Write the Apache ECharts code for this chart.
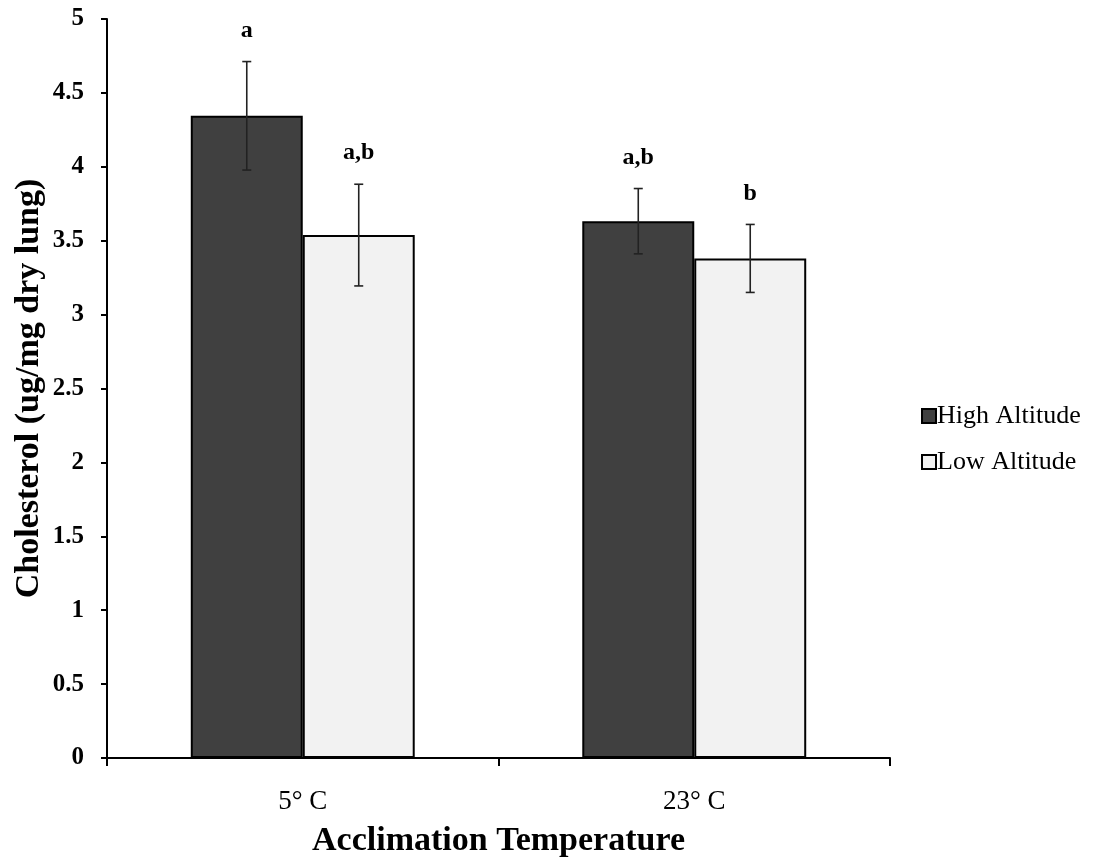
<!DOCTYPE html>
<html><head><meta charset="utf-8">
<script src="https://cdn.jsdelivr.net/npm/echarts@6/dist/echarts.min.js"></script>
<style>html,body{margin:0;padding:0;background:#fff}#c{width:1096px;height:860px}</style>
</head><body><div id="c"></div>
<script>
const categories = ['5° C', '23° C'];
const seriesNames = ['High Altitude', 'Low Altitude'];
const highValues = [4.345, 3.632];
const lowValues = [3.538, 3.380];
const highErr = [0.367, 0.221];
const lowErr = [0.344, 0.230];
const highLetters = ['a', 'a,b'];
const lowLetters = ['a,b', 'b'];
const yTicks = [0, 0.5, 1, 1.5, 2, 2.5, 3, 3.5, 4, 4.5, 5];

const SERIF = 'Liberation Serif, Times New Roman, serif';
const barFrac = 0.286;

function errSeries(name, values, errs, letters, side) {
  return {
    type: 'custom',
    name: name + ' err',
    z: 10,
    data: values.map((v, i) => [i, v, errs[i]]),
    renderItem: function (params, api) {
      const i = api.value(0), v = api.value(1), e = api.value(2);
      const band = api.size([1, 0])[0];
      const off = side * band * barFrac / 2;
      const top = api.coord([i, v + e]);
      const bot = api.coord([i, v - e]);
      const x = top[0] + off;
      const cap = 4.5;
      const st = { stroke: '#222', lineWidth: 1.6 };
      return {
        type: 'group',
        children: [
          { type: 'line', shape: { x1: x, y1: top[1], x2: x, y2: bot[1] }, style: st },
          { type: 'line', shape: { x1: x - cap, y1: top[1], x2: x + cap, y2: top[1] }, style: st },
          { type: 'line', shape: { x1: x - cap, y1: bot[1], x2: x + cap, y2: bot[1] }, style: st },
          { type: 'text', x: x, y: top[1] - 19, style: {
              text: letters[params.dataIndex], fill: '#000', align: 'center', verticalAlign: 'bottom',
              font: 'bold 24px ' + SERIF } }
        ]
      };
    }
  };
}

const chart = echarts.init(document.getElementById('c'));
chart.setOption({
  animation: false,
  backgroundColor: '#fff',
  grid: { left: 107, right: 206, top: 19, bottom: 102, outerBoundsMode: 'none', containLabel: false },
  legend: {
    data: seriesNames,
    orient: 'vertical',
    left: 916, top: 398,
    itemWidth: 14, itemHeight: 14, itemGap: 20,
    icon: 'rect',
    textStyle: { fontFamily: SERIF, fontSize: 26, color: '#000', padding: [0, 0, 0, -4] }
  },
  xAxis: {
    type: 'category',
    data: categories,
    name: 'Acclimation Temperature',
    nameLocation: 'middle',
    nameGap: 66,
    nameMoveOverlap: false,
    nameTextStyle: { fontFamily: SERIF, fontSize: 34, fontWeight: 'bold', color: '#000' },
    axisLine: { lineStyle: { color: '#000', width: 2 } },
    axisTick: { show: true, length: 8, lineStyle: { color: '#000', width: 2 } },
    axisLabel: { fontFamily: SERIF, fontSize: 27, color: '#000', margin: 30 }
  },
  yAxis: {
    type: 'value',
    min: 0, max: 5, interval: 0.5,
    name: 'Cholesterol (ug/mg dry lung)',
    nameLocation: 'middle',
    nameGap: 61,
    nameMoveOverlap: false,
    nameRotate: 90,
    nameTextStyle: { fontFamily: SERIF, fontSize: 34, fontWeight: 'bold', color: '#000' },
    splitLine: { show: false },
    axisLine: { show: true, lineStyle: { color: '#000', width: 2 } },
    axisTick: { show: true, length: 6, lineStyle: { color: '#000', width: 2 } },
    axisLabel: { fontFamily: SERIF, fontSize: 25, fontWeight: 'bold', color: '#000', margin: 23,
      formatter: v => yTicks.includes(v) ? String(v) : '' }
  },
  series: [
    { type: 'bar', name: seriesNames[0], data: highValues, barWidth: (barFrac * 100) + '%', barGap: '0%',
      itemStyle: { color: '#404040', borderColor: '#000', borderWidth: 2 } },
    { type: 'bar', name: seriesNames[1], data: lowValues, barWidth: (barFrac * 100) + '%', barGap: '0%',
      itemStyle: { color: '#f2f2f2', borderColor: '#000', borderWidth: 2 } },
    errSeries(seriesNames[0], highValues, highErr, highLetters, -1),
    errSeries(seriesNames[1], lowValues, lowErr, lowLetters, 1)
  ]
});
</script></body></html>
